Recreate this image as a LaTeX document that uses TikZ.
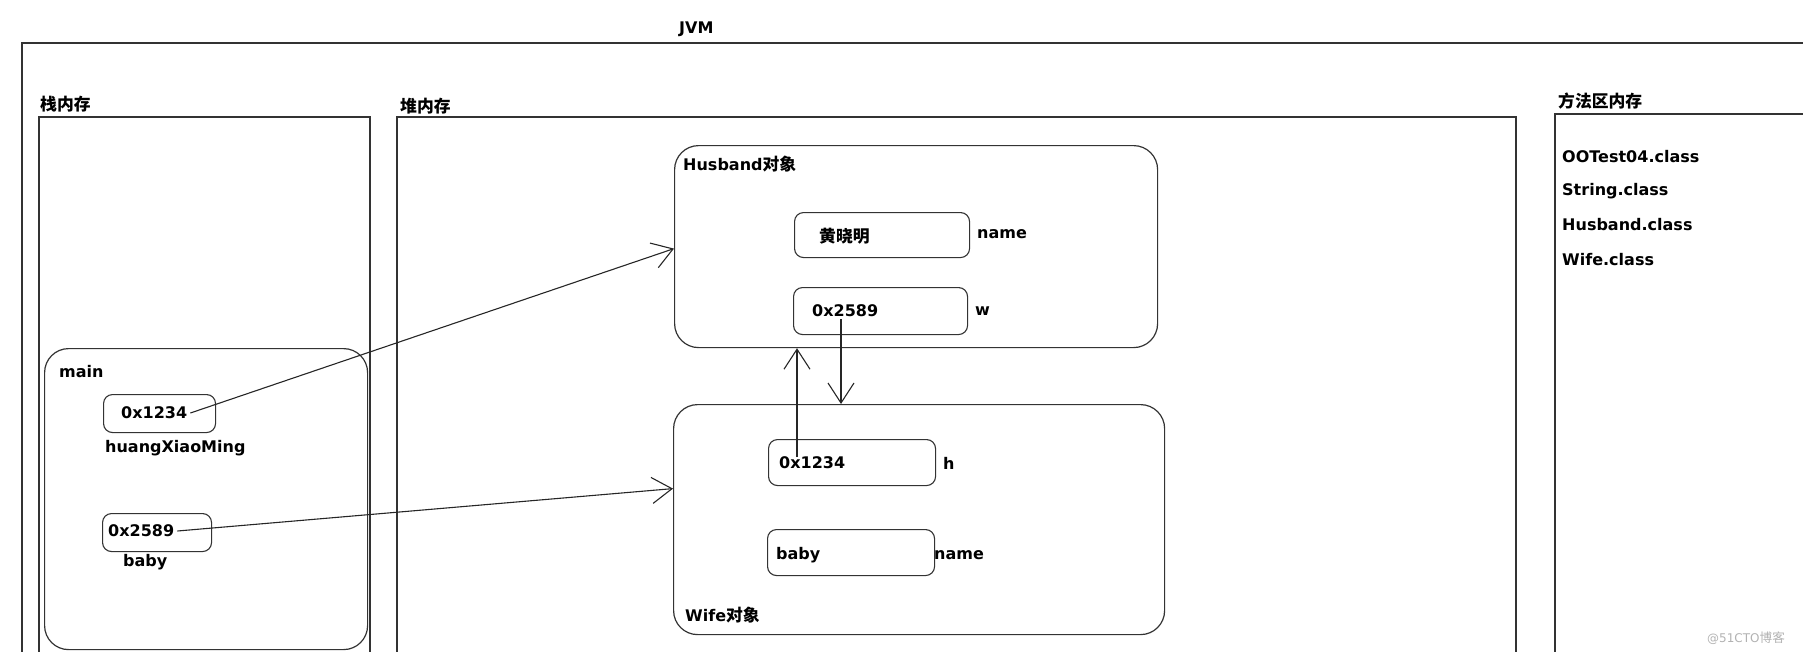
\documentclass[tikz,border=0pt]{standalone}
\usepackage{fontspec}
\setmainfont{DejaVu Sans}
\newfontfamily\cjk{Noto Sans CJK SC}[Scale=1.05]
\usetikzlibrary{arrows.meta}

\begin{document}
\begin{tikzpicture}[x=1pt, y=-1pt,
    font=\bfseries\fontsize{16}{19}\selectfont,
    every node/.style={inner sep=0pt, anchor=west},
    frame/.style={draw=black!80, line width=1.3pt},
    area/.style={draw=black!80, line width=1.2pt, rounded corners=24pt, anchor=north west},
    valbox/.style={draw=black!80, line width=1.1pt, rounded corners=9pt, anchor=north west},
    ref/.style={draw=black!85, line width=1.1pt, -{Straight Barb[length=20pt,width=26pt]}}]
    \useasboundingbox (0,0) rectangle (1803,651);
    \clip (0,0) rectangle (1803,651);
    % JVM
    \node (jvm) at (679,29) {JVM};
    \draw[frame] (22,43) rectangle (1830,700);
    % Memory areas
    \node (stacklbl) at (40,104) {\cjk 栈内存};
    \draw[frame] (39,117) rectangle (370,700);
    \node (heaplbl) at (400,106) {\cjk 堆内存};
    \draw[frame] (397,117) rectangle (1516,700);
    \node (methodlbl) at (1558,101) {\cjk 方法区内存};
    \draw[frame] (1555,114) rectangle (1830,700);
    % Classes
    \foreach \cls/\y in {OOTest04/157, String/191, Husband/225, Wife/260}
        \node (cls\cls) at (1562,\y) {\cls.class};
    % Stack frame
    \node[area, minimum width=323pt, minimum height=301pt] (mainfr) at (44,348) {};
    \node (mainlbl) at (59,372) {main};
    \node[valbox, minimum width=112pt, minimum height=38pt] (sa) at (103,394) {};
    \node (sav) at (121,413) {0x1234};
    \node (savar) at (105,448) {huangXiaoMing};
    \node[valbox, minimum width=109pt, minimum height=38pt] (sb) at (102,513) {};
    \node (sbv) at (108,531) {0x2589};
    \node (sbvar) at (123,562) {baby};
    % Husband object
    \node[area, minimum width=483pt, minimum height=202pt] (husband) at (674,145) {};
    \node (hlbl) at (683,164) {Husband\cjk 对象};
    \node[valbox, minimum width=175pt, minimum height=45pt] (hn) at (794,212) {};
    \node (hnv) at (819,236) {\cjk 黄晓明};
    \node (hnvar) at (977,234) {name};
    \node[valbox, minimum width=174pt, minimum height=47pt] (hw) at (793,287) {};
    \node (hwv) at (812,311) {0x2589};
    \node (hwvar) at (975,311) {w};
    % Wife object
    \node[area, minimum width=491pt, minimum height=230pt] (wife) at (673,404) {};
    \node[valbox, minimum width=167pt, minimum height=46pt] (wh) at (768,439) {};
    \node (whv) at (779,463) {0x1234};
    \node (whvar) at (943,463) {h};
    \node[valbox, minimum width=167pt, minimum height=46pt] (wn) at (767,529) {};
    \node (wnv) at (776,555) {baby};
    \node (wnvar) at (934,555) {name};
    \node (wlbl) at (685,615) {Wife\cjk 对象};
    % References
    \draw[ref] ([xshift=3pt]sav.east) -- ([yshift=-2pt]husband.west);
    \draw[ref] ([xshift=3pt]sbv.east) -- ([yshift=31pt]wife.west);
    \draw[ref] ([xshift=18pt,yshift=6pt]whv.west) -- ([xshift=18pt]whv.west |- husband.south);
    \draw[ref] ([xshift=29pt,yshift=-8pt]hwv.west) -- ([xshift=29pt]hwv.west |- wife.north);
    % Watermark
    \node[font=\fontsize{12}{14}\selectfont, text=black!30] (mark) at (1707,638) {@51CTO\cjk 博客};
\end{tikzpicture}
\end{document}
